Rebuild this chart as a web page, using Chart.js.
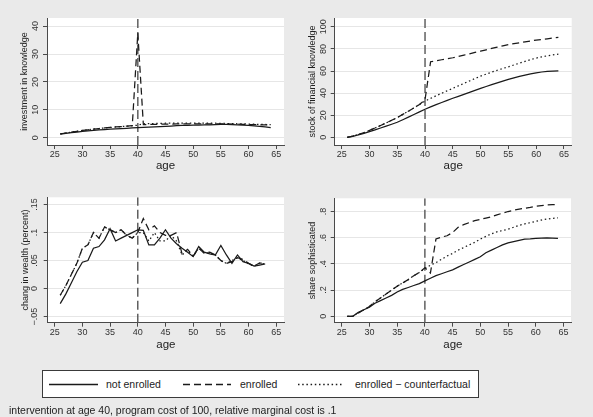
<!DOCTYPE html>
<html>
<head>
<meta charset="utf-8">
<script src="https://cdn.jsdelivr.net/npm/chart.js@4"></script>
<style>
  body { margin: 0; background: #eaeaea; font-family: "Liberation Sans", Arial, sans-serif; }
  #wrap { position: relative; width: 593px; height: 417px; overflow: hidden; }
  #wrap canvas { position: absolute; left: 0; top: 0; }
  #legend { position: absolute; left: 42px; top: 370px; width: 435px; height: 26px; background: #fff; border: 1px solid #3a3a3a; }
  #legend svg { position: absolute; left: 0; top: 0; }
  #legend span { position: absolute; top: 7px; font-size: 10.5px; color: #222; white-space: nowrap; }
  #note { position: absolute; left: 9px; top: 404px; font-size: 10.5px; color: #222; white-space: nowrap; }
</style>
</head>
<body>
<div id="wrap">
  <canvas id="c1" width="593" height="417"></canvas>
  <canvas id="c2" width="593" height="417"></canvas>
  <canvas id="c3" width="593" height="417"></canvas>
  <canvas id="c4" width="593" height="417"></canvas>
  <div id="legend">
    <svg width="435" height="26">
      <line x1="6" y1="13.5" x2="55" y2="13.5" stroke="#1a1a1a" stroke-width="1.3"/>
      <line x1="140" y1="13.5" x2="188" y2="13.5" stroke="#1a1a1a" stroke-width="1.3" stroke-dasharray="7 4"/>
      <line x1="255" y1="13.5" x2="301" y2="13.5" stroke="#1a1a1a" stroke-width="1.3" stroke-dasharray="1.5 2.7"/>
    </svg>
    <span style="left:63px">not enrolled</span>
    <span style="left:197px">enrolled</span>
    <span style="left:312px">enrolled − counterfactual</span>
  </div>
  <div id="note">intervention at age 40, program cost of 100, relative marginal cost is .1</div>
</div>
<script>
// ages on the x axis
const ages = [26,27,28,29,30,31,32,33,34,35,36,37,38,39,40,41,42,43,44,45,46,47,48,49,50,51,52,53,54,55,56,57,58,59,60,61,62,63,64];
const agesWealth = [26,27,28,29,30,31,32,33,34,35,36,37,38,39,40,41,42,43,44,45,46,47,48,49,50,51,52,53,54,55,56,57,58,59,60,61,62,63];
const xTicks = [25,30,35,40,45,50,55,60,65];
const interventionAge = 40;

// investment in knowledge
const investNot = [1.3,1.55,1.8,2.05,2.3,2.5,2.65,2.8,2.95,3.1,3.2,3.3,3.4,3.5,3.6,3.7,3.8,3.9,4.0,4.1,4.2,4.3,4.4,4.45,4.5,4.55,4.6,4.65,4.7,4.75,4.75,4.7,4.65,4.55,4.4,4.25,4.05,3.85,3.65];
const investEnr = [1.4,1.7,2.0,2.3,2.6,2.85,3.1,3.3,3.5,3.7,3.85,4.0,4.15,4.3,37.5,4.7,4.75,4.8,4.85,4.9,4.9,4.95,4.95,5.0,5.0,5.0,5.0,5.0,5.0,4.95,4.95,4.9,4.85,4.8,4.75,4.7,4.65,4.6,4.55];
const investCf = [1.4,1.7,2.0,2.3,2.6,2.85,3.1,3.3,3.5,3.7,3.85,4.0,4.15,4.3,4.5,5.0,5.05,5.1,5.15,5.2,5.2,5.25,5.25,5.25,5.25,5.25,5.2,5.2,5.2,5.15,5.1,5.05,5.0,4.95,4.9,4.85,4.8,4.75,4.7];
const investTicks = [0,10,20,30,40];
const investLabels = ['0','10','20','30','40'];

// stock of financial knowledge
const stockNot = [0,0.9,2.1,3.5,5.1,6.7,8.4,10.1,11.8,13.6,15.9,18.2,20.6,23.0,25.4,27.5,29.5,31.5,33.4,35.3,37.1,38.9,40.7,42.5,44.3,46.0,47.7,49.3,50.9,52.4,53.8,55.1,56.3,57.4,58.4,59.1,59.6,59.9,60.2];
const stockEnr = [0,1.1,2.5,4.2,6.2,8.4,10.7,13.0,15.4,17.8,20.7,23.6,26.6,29.7,34.0,68.4,69.3,70.2,71.1,72.0,73.2,74.4,75.6,76.8,78.0,79.2,80.4,81.6,82.8,84.0,84.8,85.6,86.4,87.2,88.0,88.6,89.2,89.8,90.4];
const stockCf = [0,1.1,2.5,4.2,6.2,8.4,10.7,13.0,15.4,17.8,20.7,23.6,26.6,29.7,32.8,35.2,37.6,39.9,42.1,44.3,46.6,48.8,51.0,53.2,55.4,57.2,59.0,60.7,62.3,63.8,65.5,67.1,68.7,70.3,71.7,72.8,73.8,74.6,75.3];
const stockTicks = [0,20,40,60,80,100];
const stockLabels = ['0','20','40','60','80','100'];

// change in wealth (percent)
const wealthNot = [-0.027,-0.01,0.01,0.03,0.047,0.05,0.072,0.075,0.087,0.107,0.085,0.09,0.095,0.1,0.105,0.104,0.078,0.078,0.09,0.105,0.09,0.08,0.072,0.065,0.057,0.075,0.065,0.062,0.06,0.077,0.06,0.045,0.06,0.048,0.045,0.04,0.042,0.044];
const wealthEnr = [-0.012,0.005,0.025,0.045,0.072,0.078,0.1,0.09,0.11,0.105,0.1,0.105,0.095,0.09,0.1,0.125,0.105,0.112,0.1,0.095,0.095,0.1,0.062,0.07,0.058,0.072,0.063,0.065,0.06,0.05,0.045,0.048,0.055,0.052,0.045,0.04,0.046,0.044];
const wealthCf = [-0.012,0.005,0.025,0.045,0.072,0.078,0.1,0.09,0.11,0.105,0.1,0.105,0.095,0.09,0.1,0.1,0.085,0.1,0.085,0.085,0.095,0.085,0.06,0.068,0.058,0.072,0.064,0.063,0.06,0.05,0.045,0.05,0.055,0.05,0.044,0.04,0.045,0.044];
const wealthTicks = [-0.05,0,0.05,0.1,0.15];
const wealthLabels = ['\u2212.05','0','.05','.1','.15'];

// share sophisticated
const shareNot = [0,0,0.03,0.05,0.07,0.1,0.12,0.14,0.16,0.185,0.205,0.22,0.235,0.25,0.27,0.29,0.31,0.325,0.34,0.355,0.375,0.395,0.415,0.435,0.455,0.485,0.505,0.525,0.545,0.56,0.57,0.58,0.59,0.592,0.595,0.597,0.598,0.597,0.595];
const shareEnr = [0,0,0.025,0.05,0.075,0.11,0.14,0.17,0.2,0.23,0.255,0.28,0.31,0.335,0.37,0.33,0.59,0.605,0.615,0.64,0.68,0.7,0.715,0.73,0.74,0.75,0.76,0.775,0.787,0.8,0.81,0.818,0.825,0.832,0.84,0.845,0.85,0.852,0.852];
const shareCf = [0,0,0.025,0.05,0.075,0.11,0.14,0.17,0.2,0.23,0.255,0.28,0.31,0.335,0.365,0.39,0.41,0.435,0.46,0.48,0.505,0.525,0.545,0.565,0.59,0.61,0.63,0.645,0.655,0.665,0.68,0.695,0.705,0.715,0.725,0.735,0.742,0.748,0.752];
const shareTicks = [0,0.2,0.4,0.6,0.8];
const shareLabels = ['0','.2','.4','.6','.8'];

const seriesNames = ['not enrolled', 'enrolled', 'enrolled \u2212 counterfactual'];
const seriesDash = [[], [7, 4], [1.5, 2.7]];

const W = 593, H = 417;
const axisW = 47;
const fontFamily = '"Liberation Sans", Arial, sans-serif';

const panels = [
    { id: 'c1', title: 'investment in knowledge', x: ages, series: [investNot, investEnr, investCf],
      yTicks: investTicks, yLabels: investLabels, box: { left: 47, top: 18, right: 284, bottom: 145 },
      xRange: [23.6, 66.4], yRange: [-2.6, 42.9], xAxisH: 35, tickPad: 2.2 },
    { id: 'c2', title: 'stock of financial knowledge', x: ages, series: [stockNot, stockEnr, stockCf],
      yTicks: stockTicks, yLabels: stockLabels, box: { left: 334.7, top: 18, right: 571.7, bottom: 145 },
      xRange: [23.74, 66.4], yRange: [-7, 108], xAxisH: 35, tickPad: 0 },
    { id: 'c3', title: 'chang in wealth (percent)', x: agesWealth, series: [wealthNot, wealthEnr, wealthCf],
      yTicks: wealthTicks, yLabels: wealthLabels, box: { left: 47.7, top: 197.3, right: 284, bottom: 322.7 },
      xRange: [23.74, 66.4], yRange: [-0.061, 0.163], xAxisH: 36, tickPad: 0 },
    { id: 'c4', title: 'share sophisticated', x: ages, series: [shareNot, shareEnr, shareCf],
      yTicks: shareTicks, yLabels: shareLabels, box: { left: 334.7, top: 198.3, right: 571, bottom: 322.7 },
      xRange: [23.74, 66.35], yRange: [-0.049, 0.901], xAxisH: 36, tickPad: 3.6 }
];

// white plot region behind the lines
const whitePlot = {
    id: 'whitePlot',
    beforeDraw: function (chart) {
        const a = chart.chartArea;
        chart.ctx.save();
        chart.ctx.fillStyle = '#ffffff';
        chart.ctx.fillRect(a.left, a.top, a.right - a.left, a.bottom - a.top);
        chart.ctx.restore();
    }
};

panels.forEach(function (p) {
    const datasets = p.series.map(function (vals, k) {
        return {
            label: seriesNames[k],
            data: vals.map(function (v, i) { return { x: p.x[i], y: v }; }),
            borderColor: '#1a1a1a',
            borderWidth: 1.25,
            borderDash: seriesDash[k],
            pointRadius: 0,
            tension: 0,
            fill: false
        };
    });
    // dashed marker at the intervention age
    datasets.push({
        label: 'intervention',
        data: [{ x: interventionAge, y: p.yRange[0] }, { x: interventionAge, y: p.yRange[1] }],
        borderColor: '#606060',
        borderWidth: 1.5,
        borderDash: [9, 4],
        pointRadius: 0
    });

    new Chart(document.getElementById(p.id), {
        type: 'line',
        data: { datasets: datasets },
        options: {
            responsive: false,
            animation: false,
            events: [],
            layout: {
                padding: { left: p.box.left - axisW, top: p.box.top, right: W - p.box.right, bottom: H - p.box.bottom - p.xAxisH }
            },
            plugins: { legend: { display: false }, tooltip: { enabled: false } },
            scales: {
                x: {
                    type: 'linear',
                    min: p.xRange[0],
                    max: p.xRange[1],
                    afterBuildTicks: function (scale) { scale.ticks = xTicks.map(function (v) { return { value: v }; }); },
                    afterFit: function (scale) { scale.height = p.xAxisH; },
                    grid: { drawOnChartArea: false, tickLength: 4, tickColor: '#4a4a4a' },
                    border: { color: '#4a4a4a', width: 1 },
                    ticks: { autoSkip: false, maxRotation: 0, padding: 0.6, color: '#333', font: { family: fontFamily, size: 9 } },
                    title: { display: true, text: 'age', color: '#222', padding: { top: 0, bottom: 7 }, font: { family: fontFamily, size: 11.5 } }
                },
                y: {
                    type: 'linear',
                    min: p.yRange[0],
                    max: p.yRange[1],
                    afterBuildTicks: function (scale) { scale.ticks = p.yTicks.map(function (v) { return { value: v }; }); },
                    afterFit: function (scale) { scale.width = axisW; },
                    grid: { color: '#e6e6e6', tickLength: 4, tickColor: '#4a4a4a' },
                    border: { color: '#4a4a4a', width: 1 },
                    ticks: {
                        minRotation: 90, maxRotation: 90, crossAlign: 'center', padding: p.tickPad,
                        color: '#333', font: { family: fontFamily, size: 9 },
                        callback: function (v, i) { return p.yLabels[i]; }
                    },
                    title: { display: true, text: p.title, color: '#222', padding: { top: 19.6, bottom: 0 }, font: { family: fontFamily, size: 9 } }
                }
            }
        },
        plugins: [whitePlot]
    });
});
</script>
</body>
</html>
